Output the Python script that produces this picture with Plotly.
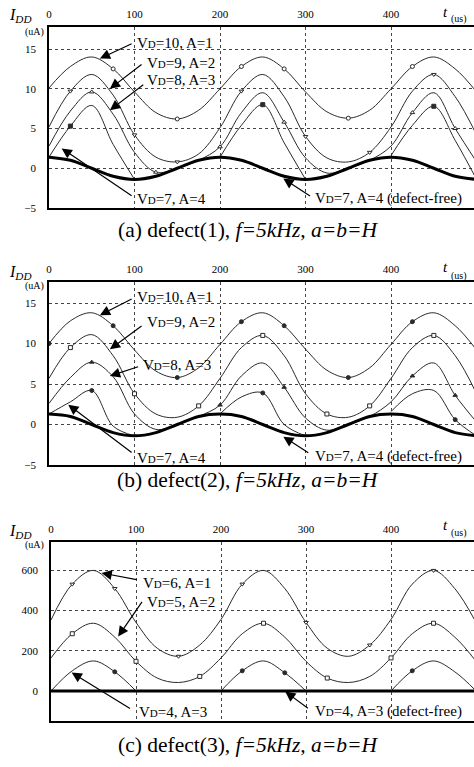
import plotly.graph_objects as go

W, H = 474, 767
SERIF = "Liberation Serif"

# ---------------- data ----------------
t_us = [0, 25, 50, 75, 100, 125, 150, 175, 200, 225, 250, 275, 300, 325, 350, 375, 400, 425, 450, 475, 500]

# panel (a) defect(1)
a_free = [1.4, 1.0, 0.0, -1.0, -1.4, -1.0, 0.0, 1.0, 1.4, 1.0, 0.0, -1.0, -1.4, -1.0, 0.0, 1.0, 1.4, 1.0, 0.0, -1.0, -1.4]
a_vd10 = [10.1, 12.8, 14.0, 12.5, 9.6, 7.0, 6.2, 7.3, 10.0, 12.8, 14.0, 12.5, 9.6, 7.1, 6.3, 7.3, 10.0, 12.8, 14.0, 12.5, 9.6]
a_vd9 = [5.2, 9.7, 11.8, 9.2, 4.2, 1.4, 0.8, 1.8, 5.1, 9.7, 11.8, 9.0, 4.0, 1.3, 0.8, 2.0, 5.2, 9.7, 11.8, 9.0, 4.2]
a_vd8 = [2.8, 7.2, 9.6, 6.8, 2.0, -0.5, 0.0, 1.0, 2.7, 7.0, 9.5, 5.8, 1.3, -0.6, 0.0, 1.0, 2.8, 7.0, 9.5, 5.0, 0.8]
a_vd7 = [1.4, 5.3, 7.9, 3.0, -1.4, None, None, None, 1.4, 5.4, 8.0, 3.2, -1.4, None, None, None, 1.6, 5.4, 7.8, 3.5, -1.4]
a_mk10 = [75, 150, 225, 275, 350, 425]
a_mk9 = [25, 100, 150, 225, 300, 375, 450]
a_mk8 = [50, 125, 200, 275, 425, 475]
a_mk7 = [25, 250, 450]

# panel (b) defect(2)
b_free = [1.3, 1.0, 0.0, -1.0, -1.4, -1.0, 0.0, 1.0, 1.3, 1.0, 0.0, -1.0, -1.4, -1.0, 0.0, 1.0, 1.3, 1.0, 0.0, -1.0, -1.4]
b_vd10 = [10.0, 12.8, 13.8, 12.2, 9.2, 6.6, 5.8, 7.0, 9.9, 12.7, 13.8, 12.2, 9.3, 6.7, 5.8, 7.0, 9.9, 12.7, 13.8, 12.2, 9.2]
b_vd9 = [5.7, 9.5, 11.1, 8.5, 3.8, 1.3, 0.9, 2.3, 5.7, 9.5, 11.0, 8.5, 3.8, 1.3, 0.9, 2.3, 5.7, 9.5, 11.0, 8.5, 3.8]
b_vd8 = [2.6, 5.8, 7.7, 5.9, 1.3, -0.6, 0.0, 1.0, 2.4, 6.0, 7.6, 4.6, 0.8, -0.7, 0.0, 1.0, 2.8, 6.0, 7.6, 3.6, 0.3]
b_vd7 = [1.3, 2.8, 4.2, -0.2, -1.4, None, None, None, 1.3, 3.4, 3.9, 0.0, -1.4, None, None, None, 1.6, 3.8, 4.2, 0.6, -1.4]
b_mk10 = [0, 75, 150, 225, 275, 350, 425]
b_mk9 = [25, 100, 175, 250, 325, 375, 450]
b_mk8 = [50, 200, 275, 425, 475]
b_mk7 = [50, 250, 475]

# panel (c) defect(3)
c_free = [0] * 21
c_vd6 = [352, 530, 598, 508, 340, 212, 172, 228, 355, 530, 598, 508, 340, 212, 172, 228, 355, 530, 598, 508, 340]
c_vd5 = [164, 284, 336, 267, 147, 64, 42, 72, 164, 284, 336, 267, 147, 64, 42, 72, 164, 284, 336, 267, 147]
c_vd4 = [0, 100, 149, 95, 0, None, None, None, 0, 100, 149, 90, 0, None, None, None, 0, 100, 149, 95, 0]
c_mk6 = [25, 75, 150, 225, 300, 375, 450]
c_mk5 = [25, 100, 175, 250, 325, 400, 450]
c_mk4 = [75, 225, 275, 425]

y_ticks_ab = [-5, 0, 5, 10, 15]
y_ticks_c = [0, 200, 400, 600]
x_ticks = [0, 100, 200, 300, 400]

# ---------------- figure ----------------
fig = go.Figure()
THIN = "#2a2a2a"


def add_curve(vals, marks, symbol, xa, ya, filled):
    fig.add_trace(go.Scatter(x=t_us, y=vals, mode="lines", xaxis=xa, yaxis=ya,
                             line=dict(color=THIN, width=1, shape="spline", smoothing=1.0),
                             connectgaps=False, hoverinfo="skip", showlegend=False))
    mx = [t for t in marks]
    my = [vals[t_us.index(t)] for t in marks]
    fig.add_trace(go.Scatter(x=mx, y=my, mode="markers", xaxis=xa, yaxis=ya,
                             marker=dict(symbol=symbol, size=4,
                                         color=THIN if filled else "white",
                                         line=dict(color=THIN, width=1)),
                             hoverinfo="skip", showlegend=False))


def add_free(vals, xa, ya):
    fig.add_trace(go.Scatter(x=t_us, y=vals, mode="lines", xaxis=xa, yaxis=ya,
                             line=dict(color="black", width=3, shape="spline", smoothing=1.0),
                             hoverinfo="skip", showlegend=False))


# (a)
add_curve(a_vd10, a_mk10, "circle", "x", "y", False)
add_curve(a_vd9, a_mk9, "triangle-down", "x", "y", False)
add_curve(a_vd8, a_mk8, "triangle-up", "x", "y", False)
add_curve(a_vd7, a_mk7, "square", "x", "y", True)
add_free(a_free, "x", "y")
# (b)
add_curve(b_vd10, b_mk10, "circle", "x2", "y2", True)
add_curve(b_vd9, b_mk9, "square", "x2", "y2", False)
add_curve(b_vd8, b_mk8, "triangle-up", "x2", "y2", True)
add_curve(b_vd7, b_mk7, "circle", "x2", "y2", True)
add_free(b_free, "x2", "y2")
# (c)
add_curve(c_vd6, c_mk6, "triangle-down", "x3", "y3", False)
add_curve(c_vd5, c_mk5, "square", "x3", "y3", False)
add_curve(c_vd4, c_mk4, "circle", "x3", "y3", True)
add_free(c_free, "x3", "y3")


def py2p(py):
    return 1 - py / H


def px2p(px):
    return px / W


tickfont = dict(family=SERIF, size=11, color="black")


def xax(domain, rng, anchor):
    return dict(domain=domain, range=rng, anchor=anchor, side="top", tickvals=x_ticks,
                ticks="", showline=True, linecolor="black", linewidth=1.5, mirror=True,
                showgrid=True, gridcolor="#444", griddash="dot", gridwidth=1,
                zeroline=False, tickfont=tickfont, ticklabelstandoff=3, fixedrange=True,
                automargin=False)


def yax(domain, rng, anchor, ticks):
    return dict(domain=domain, range=rng, anchor=anchor, tickvals=ticks,
                ticks="", showline=True, linecolor="black", linewidth=1.5,
                showgrid=True, gridcolor="#444", griddash="dot", gridwidth=1,
                zeroline=False, tickfont=tickfont, ticklabelstandoff=9, fixedrange=True,
                automargin=False)


fig.update_layout(
    width=W, height=H, margin=dict(l=0, r=0, t=0, b=0, autoexpand=False),
    paper_bgcolor="white", plot_bgcolor="white",
    xaxis=xax([px2p(49), 1], [0, 497], "y"),
    yaxis=yax([py2p(208), py2p(27)], [-5, 17.77], "x", y_ticks_ab),
    xaxis2=xax([px2p(49), 1], [0, 497], "y2"),
    yaxis2=yax([py2p(465), py2p(282)], [-5, 17.6], "x2", y_ticks_ab),
    xaxis3=xax([px2p(51), 1], [0, 497.6], "y3"),
    yaxis3=yax([py2p(721), py2p(542)], [-149, 739], "x3", y_ticks_c),
)

ann = []
LBL = dict(family=SERIF, size=15, color="black")


def vd(v, a, extra=""):
    return 'V<span style="font-size:11px">D</span>=%s, A=%s%s' % (v, a, extra)


def label(xr, yr, x, y, text):
    ann.append(dict(xref=xr, yref=yr, x=x, y=y, text=text, showarrow=False,
                    xanchor="left", yanchor="middle", font=LBL))


def arrow(xr, yr, tip, tail):
    ann.append(dict(xref=xr, yref=yr, axref=xr, ayref=yr, x=tip[0], y=tip[1],
                    ax=tail[0], ay=tail[1], text="", showarrow=True, arrowhead=2,
                    arrowsize=1.7, arrowwidth=1.2, arrowcolor="black", standoff=0,
                    startstandoff=0))


# (a)
label("x", "y", 100.5, 15.7, vd(10, 1))
label("x", "y", 112, 13.3, vd(9, 2))
label("x", "y", 112, 11.1, vd(8, 3))
label("x", "y", 100.5, -3.9, vd(7, 4))
label("x", "y", 309, -3.8, vd(7, 4, " (defect-free)"))
arrow("x", "y", (59.5, 13.8), (98.4, 15.75))
arrow("x", "y", (71.2, 10.0), (110, 13.2))
arrow("x", "y", (71.2, 7.3), (112, 10.65))
arrow("x", "y", (14.8, 2.5), (98.4, -3.6))
arrow("x", "y", (274, -1.3), (307, -3.6))
# (b)
label("x2", "y2", 100.5, 15.7, vd(10, 1))
label("x2", "y2", 112, 12.6, vd(9, 2))
label("x2", "y2", 108, 7.4, vd(8, 3))
label("x2", "y2", 100.5, -4.1, vd(7, 4))
label("x2", "y2", 309, -4.0, vd(7, 4, " (defect-free)"))
arrow("x2", "y2", (59.5, 13.5), (98.4, 15.6))
arrow("x2", "y2", (71.2, 9.3), (110, 12.3))
arrow("x2", "y2", (71.2, 6.0), (106, 7.2))
arrow("x2", "y2", (22.5, 2.45), (98.4, -3.6))
arrow("x2", "y2", (274, -1.5), (305, -3.6))
# (c)
label("x3", "y3", 106.4, 538, vd(6, 1))
label("x3", "y3", 110, 439, vd(5, 2))
label("x3", "y3", 100.6, -103, vd(4, 3))
label("x3", "y3", 308.7, -103, vd(4, 3, " (defect-free)"))
arrow("x3", "y3", (59.5, 585), (102.5, 551))
arrow("x3", "y3", (79, 270), (108.3, 449))
arrow("x3", "y3", (24.3, 91), (94.7, -91))
arrow("x3", "y3", (275.5, -3), (304, -91))


def ptext(px, py, text, size, xanchor="center"):
    ann.append(dict(xref="paper", yref="paper", x=px2p(px), y=py2p(py), text=text,
                    showarrow=False, xanchor=xanchor, yanchor="middle",
                    font=dict(family=SERIF, size=size, color="black")))


captions = ["(a) defect(1), ", "(b) defect(2), ", "(c) defect(3), "]
cap_y = [230, 480, 745]
idd_y = [16, 273, 531]
ua_y = [32, 286, 545]
t_y = [12, 267, 525]
us_y = [19, 276, 533]
for i in range(3):
    ptext(248, cap_y[i], captions[i] + "<i>f=5kHz, a=b=H</i>", 21.5)
    ptext(20, idd_y[i], "<i>I</i><sub><i>DD</i></sub>", 16)
    ptext(34, ua_y[i], "(uA)", 10)
    ptext(445, t_y[i], "<i>t</i>", 15)
    ptext(459, us_y[i], "(us)", 10)

fig.update_layout(annotations=ann)
fig.write_html("out.html", config={"displayModeBar": False},
               post_script="document.body.style.margin='0';document.body.style.padding='0';")
